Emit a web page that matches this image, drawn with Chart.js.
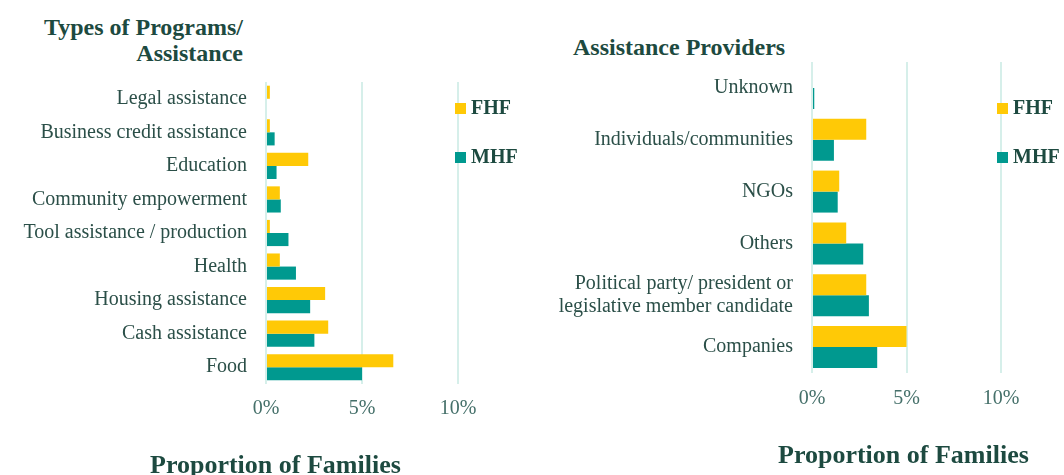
<!DOCTYPE html>
<html>
<head>
<meta charset="utf-8">
<script src="https://cdn.jsdelivr.net/npm/chart.js@4/dist/chart.umd.min.js"></script>
<style>
    body { margin: 0; width: 1064px; height: 475px; overflow: hidden; background: #fff; position: relative; font-family: "Liberation Serif", serif; }
    .box { position: absolute; }
    .titolo { position: absolute; font-weight: bold; font-size: 24px; color: #1d4a40; line-height: 26px; white-space: nowrap; }
    .asse { position: absolute; font-weight: bold; font-size: 26px; color: #1d4a40; white-space: nowrap; }
    .legenda { position: absolute; font-weight: bold; font-size: 20px; color: #1d4a40; line-height: 20px; }
    .legenda div { height: 49px; white-space: nowrap; }
    .legenda span { display: inline-block; width: 11px; height: 11px; margin-right: 5px; }
</style>
</head>
<body>

<div class="titolo" style="left:0px; top:14px; text-align:right; width:243px;">Types of Programs/<br>Assistance</div>
<div class="titolo" style="left:573px; top:34px;">Assistance Providers</div>

<div class="box" style="left:0; top:0;"><canvas id="graficoProgrammi" width="540" height="475"></canvas></div>
<div class="box" style="left:540px; top:0;"><canvas id="graficoFornitori" width="524" height="475"></canvas></div>

<div class="legenda" style="left:455px; top:97px;">
    <div><span style="background:#ffc906"></span>FHF</div>
    <div><span style="background:#00998f"></span>MHF</div>
</div>
<div class="legenda" style="left:997px; top:97px;">
    <div><span style="background:#ffc906"></span>FHF</div>
    <div><span style="background:#00998f"></span>MHF</div>
</div>

<div class="asse" style="left:150px; top:450px;">Proportion of Families</div>
<div class="asse" style="left:778px; top:440px;">Proportion of Families</div>

<script>
// dati (percentuali)
const programmi = ['Legal assistance', 'Business credit assistance', 'Education', 'Community empowerment', 'Tool assistance / production', 'Health', 'Housing assistance', 'Cash assistance', 'Food']
const programmiFHF = [0.2, 0.2, 2.2, 0.72, 0.2, 0.72, 3.08, 3.24, 6.63]
const programmiMHF = [0, 0.45, 0.55, 0.77, 1.17, 1.56, 2.3, 2.52, 5.0]

const fornitori = ['Unknown', 'Individuals/communities', 'NGOs', 'Others', ['Political party/ president or', 'legislative member candidate'], 'Companies']
const fornitoriFHF = [0, 2.87, 1.44, 1.81, 2.87, 5.0]
const fornitoriMHF = [0.12, 1.16, 1.36, 2.71, 3.01, 3.45]

const tickX = [0, 5, 10]

const giallo = '#ffc906'
const verde = '#00998f'
const griglia = '#d6efea'

function creaGrafico(id, etichette, fhf, mhf, opz) {
    const ctx = document.getElementById(id).getContext('2d')
    return new Chart(ctx, {
        type: 'bar',
        data: {
            labels: etichette,
            datasets: [
                { label: 'FHF', data: fhf, backgroundColor: giallo, categoryPercentage: opz.cat, barPercentage: 1 },
                { label: 'MHF', data: mhf, backgroundColor: verde, categoryPercentage: opz.cat, barPercentage: 1 }
            ]
        },
        options: {
            indexAxis: 'y',
            responsive: false,
            animation: false,
            layout: { padding: { top: opz.top, bottom: opz.bottom, right: opz.right, left: 0 } },
            plugins: { legend: { display: false }, tooltip: { enabled: false } },
            scales: {
                x: {
                    min: 0,
                    max: 10,
                    afterBuildTicks: scale => { scale.ticks = tickX.map(v => ({ value: v })) },
                    afterFit: scale => { scale.height = 40 },
                    border: { display: false },
                    grid: { color: griglia, lineWidth: 2, drawTicks: false },
                    ticks: {
                        padding: opz.tickPad,
                        color: '#45706a',
                        font: { family: 'Liberation Serif', size: 20 },
                        callback: v => v + '%'
                    }
                },
                y: {
                    afterFit: scale => { scale.width = opz.yWidth },
                    border: { display: false },
                    grid: { display: false, drawTicks: false },
                    ticks: {
                        padding: 19,
                        color: '#2b4f48',
                        font: { family: 'Liberation Serif', size: 20, lineHeight: 1.15 }
                    }
                }
            }
        }
    })
}

creaGrafico('graficoProgrammi', programmi, programmiFHF, programmiMHF,
    { cat: 0.78, top: 82, bottom: 51, right: 82, yWidth: 266, tickPad: 13 })

creaGrafico('graficoFornitori', fornitori, fornitoriFHF, fornitoriMHF,
    { cat: 0.81, top: 62, bottom: 62, right: 63, yWidth: 272, tickPad: 14 })
</script>
</body>
</html>
